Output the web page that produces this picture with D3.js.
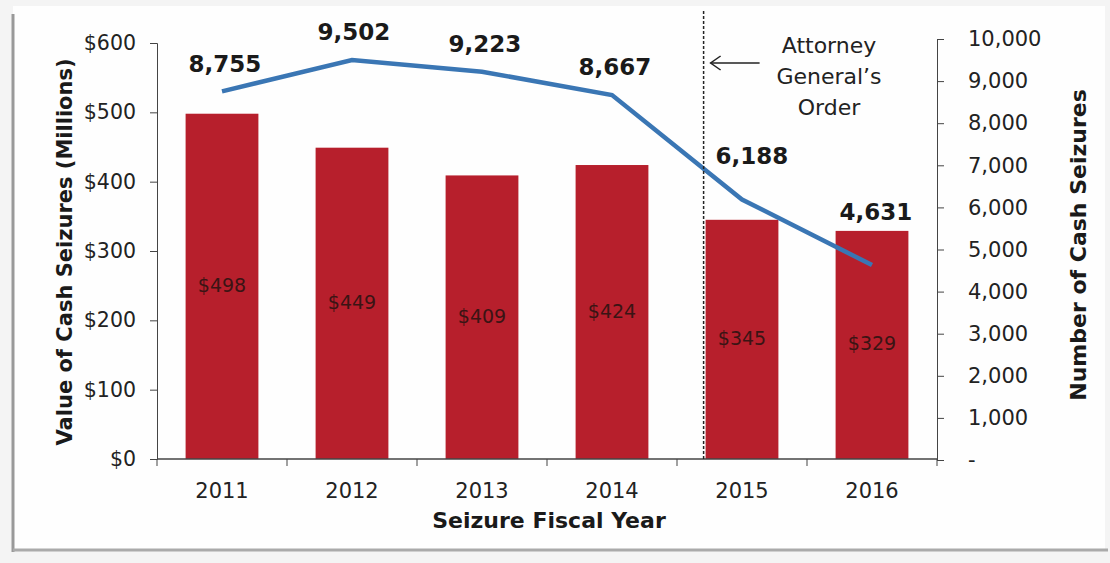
<!DOCTYPE html>
<html><head><meta charset="utf-8">
<script src="https://cdn.jsdelivr.net/npm/d3@7"></script>
<style>
body{margin:0;background:#fafafa;}
svg{display:block;font-family:"DejaVu Sans",Verdana,sans-serif;}
</style></head>
<body>
<svg id="c" width="1110" height="563"></svg>
<script>
const years = ["2011","2012","2013","2014","2015","2016"];
const values = [498, 449, 409, 424, 345, 329];           // $ millions
const counts = [8755, 9502, 9223, 8667, 6188, 4631];      // number of seizures
const leftTicks = [0,100,200,300,400,500,600];
const rightTicks = [0,1000,2000,3000,4000,5000,6000,7000,8000,9000,10000];
const countLabelLift = [26, 26, 26, 27, 42, 52];
const countLabelShift = [3, 2, 3, 3, 10, 4];

const FONT = '"DejaVu Sans", Verdana, sans-serif';
const svg = d3.select("#c");
const W = 1110, H = 563;
const m = {l:157, r:937, t:43, b:459};

// frame
svg.append("rect").attr("x",0).attr("y",0).attr("width",W).attr("height",H).attr("fill","#f4f4f4");
svg.append("rect").attr("x",13).attr("y",6).attr("width",1092).attr("height",543).attr("fill","#fefefe");
svg.append("line").attr("x1",13).attr("x2",13).attr("y1",14).attr("y2",552).attr("stroke","#999").attr("stroke-width",3);
svg.append("line").attr("x1",13).attr("x2",1108).attr("y1",550).attr("y2",550).attr("stroke","#aaa").attr("stroke-width",3);

const x = d3.scaleBand().domain(years).range([m.l, m.r]).paddingInner(0.44).paddingOuter(0.22);
const yL = d3.scaleLinear().domain([0,600]).range([m.b, m.t]);
const yR = d3.scaleLinear().domain([0,10000]).range([m.b+1, 39]);

// bars
svg.append("g").selectAll("rect").data(years).join("rect")
  .attr("x", d=>x(d)).attr("width", x.bandwidth())
  .attr("y", (d,i)=>yL(values[i])).attr("height",(d,i)=>yL(0)-yL(values[i]))
  .attr("fill","#b71f2c");

// bar labels
svg.append("g").selectAll("text").data(years).join("text")
  .attr("x", d=>x(d)+x.bandwidth()/2)
  .attr("y", (d,i)=>(yL(values[i])+yL(0))/2)
  .attr("text-anchor","middle").attr("dominant-baseline","middle")
  .attr("font-size",19).attr("fill","#3a1414")
  .text((d,i)=>"$"+values[i]);

// left axis
const gl = svg.append("g").attr("transform",`translate(${m.l},0)`)
  .call(d3.axisLeft(yL).tickValues(leftTicks).tickFormat(d=>"$"+d).tickSizeOuter(0).tickSize(7).tickPadding(14));
gl.attr("font-family",FONT);
gl.selectAll("text").attr("font-size",20.5).attr("font-family",FONT).attr("fill","#222");
gl.selectAll("line,path").attr("stroke","#444");

// right axis
const gr = svg.append("g").attr("transform",`translate(${m.r},0)`)
  .call(d3.axisRight(yR).tickValues(rightTicks).tickFormat(d=>d===0?"-":d3.format(",")(d)).tickSizeOuter(0).tickSize(7).tickPadding(24));
gr.attr("font-family",FONT);
gr.selectAll("text").attr("font-size",21).attr("font-family",FONT).attr("fill","#222");
gr.selectAll("line,path").attr("stroke","#444");

// x axis
const gx = svg.append("g").attr("transform",`translate(0,${m.b})`);
gx.append("line").attr("x1",m.l).attr("x2",m.r).attr("stroke","#444").attr("stroke-width",1.5);
const bounds = years.map(d=>x(d)-x.step()*x.paddingInner()/2).concat([m.r]);
bounds[0]=m.l;
gx.selectAll(".tk").data(bounds).join("line").attr("class","tk")
  .attr("x1",d=>d).attr("x2",d=>d).attr("y1",0).attr("y2",7).attr("stroke","#444");
gx.selectAll("text").data(years).join("text")
  .attr("x",d=>x(d)+x.bandwidth()/2).attr("y",39)
  .attr("text-anchor","middle").attr("font-size",21).attr("fill","#222").text(d=>d);

// line
const line = d3.line().x((d,i)=>x(years[i])+x.bandwidth()/2).y(d=>yR(d));
svg.append("path").datum(counts).attr("d",line)
  .attr("fill","none").attr("stroke","#3a76b4").attr("stroke-width",4.5);

// count labels
svg.append("g").selectAll("text").data(counts).join("text")
  .attr("x",(d,i)=>x(years[i])+x.bandwidth()/2+countLabelShift[i])
  .attr("y",(d,i)=>yR(d)-countLabelLift[i])
  .attr("text-anchor","middle").attr("dominant-baseline","middle")
  .attr("font-size",23).attr("font-weight","bold").attr("fill","#1a1a1a")
  .text(d=>d3.format(",")(d));

// vertical dotted line at 2015
const vx = x("2015") - 2;
svg.append("line").attr("x1",vx).attr("x2",vx).attr("y1",11).attr("y2",m.b)
  .attr("stroke","#222").attr("stroke-width",1.5).attr("stroke-dasharray","3,2");

// arrow
svg.append("line").attr("x1",vx+7).attr("x2",vx+56).attr("y1",63).attr("y2",63).attr("stroke","#222").attr("stroke-width",1.5);
svg.append("path").attr("d",`M${vx+17},56 L${vx+7},63 L${vx+17},70`).attr("fill","none").attr("stroke","#222").attr("stroke-width",1.5);

// annotation
const ann = ["Attorney","General\u2019s","Order"];
svg.append("g").selectAll("text").data(ann).join("text")
  .attr("x",829).attr("y",(d,i)=>47+i*31)
  .attr("text-anchor","middle").attr("dominant-baseline","middle")
  .attr("font-size",22).attr("fill","#222").text(d=>d);

// axis titles
svg.append("text").attr("transform","translate(66,252) rotate(-90)")
  .attr("text-anchor","middle").attr("dominant-baseline","middle")
  .attr("font-size",21).attr("font-weight","bold").attr("fill","#1a1a1a")
  .text("Value of Cash Seizures (Millions)");
svg.append("text").attr("transform","translate(1080,245) rotate(-90)")
  .attr("text-anchor","middle").attr("dominant-baseline","middle")
  .attr("font-size",22).attr("font-weight","bold").attr("fill","#1a1a1a")
  .text("Number of Cash Seizures");
svg.append("text").attr("x",549).attr("y",522)
  .attr("text-anchor","middle").attr("dominant-baseline","middle")
  .attr("font-size",22).attr("font-weight","bold").attr("fill","#1a1a1a")
  .text("Seizure Fiscal Year");
</script>
</body></html>
